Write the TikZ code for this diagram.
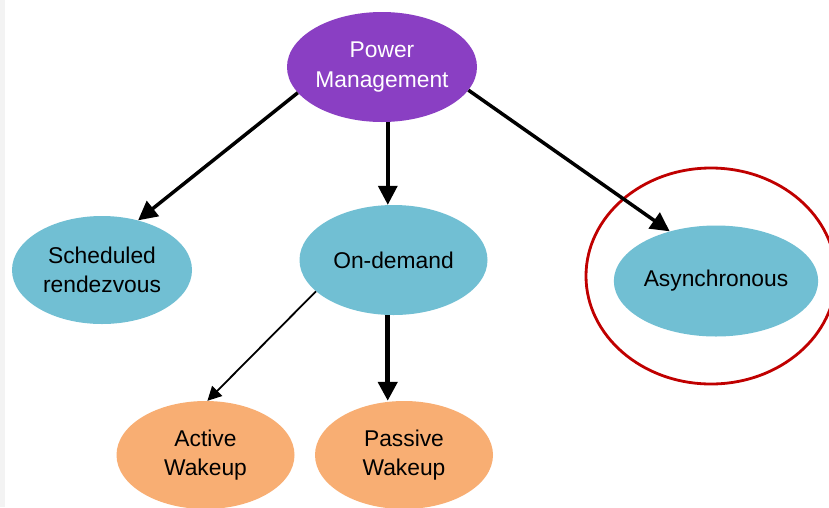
\documentclass[tikz,border=0pt]{standalone}
\usepackage{fontspec}
\setmainfont{Liberation Sans}
\usetikzlibrary{shapes.geometric,arrows.meta}

\definecolor{pmpurple}{HTML}{8A3FC3}
\definecolor{leafblue}{HTML}{71BFD3}
\definecolor{wakeorange}{HTML}{F8AE73}
\definecolor{ringred}{HTML}{C00000}
\definecolor{edgegray}{HTML}{F3F3F3}

\tikzset{
  bubble/.style={ellipse, inner sep=0pt, align=center,
    font=\fontsize{22.8}{29.5}\selectfont},
  topbubble/.style={bubble, fill=pmpurple, text=white,
    minimum width=190pt, minimum height=110pt},
  bluebubble/.style={bubble, fill=leafblue, text=black,
    minimum width=188pt, minimum height=110pt},
  orangebubble/.style={bubble, fill=wakeorange, text=black,
    minimum width=178pt, minimum height=108pt},
  link/.style={line width=3.5pt, -{Triangle[width=19pt,length=19pt]}},
  thinlink/.style={line width=1.8pt, -{Triangle[width=14pt,length=14pt]}},
  thicklink/.style={line width=4.5pt, -{Triangle[width=19pt,length=19pt]}},
  ring/.style={ellipse, draw=ringred, line width=2.8pt, inner sep=0pt,
    minimum width=250pt, minimum height=216pt}
}

\begin{document}
\begin{tikzpicture}[x=1pt,y=-1pt]
  \useasboundingbox (0,0) rectangle (829,507);
  \clip (0,0) rectangle (829,507);
  \fill[white] (0,0) rectangle (829,507);
  \fill[edgegray] (0,0) rectangle (4.5,507);

  % hierarchy nodes
  \node[topbubble]    (pm)    at (382,67)    {Power\\Management};
  \node[bluebubble, minimum width=180pt, minimum height=108pt]
                      (sched) at (102,270)   {Scheduled\\rendezvous};
  \node[bluebubble]   (od)    at (393.5,260) {On-demand};
  \node[bluebubble, minimum width=189pt, minimum height=111pt]
                      (async) at (716,281)   {Asynchronous};
  \node[orangebubble] (act)   at (205.5,455) {Active\\Wakeup};
  \node[orangebubble] (pas)   at (404,455)   {Passive\\Wakeup};

  % highlight ring around the asynchronous branch
  \node[ring] (hl) at (711,276) {};

  % connectors
  \draw[link] (pm.197) -- (sched.54);
  \draw[link] (pm.276) -- (pm.276 |- od.north);
  \draw[link] (pm.345) -- (async.133.5);
  \draw[thinlink] (od.202) -- (act.88);
  \draw[thicklink] (od.264) -- (od.264 |- pas.north);
\end{tikzpicture}
\end{document}
